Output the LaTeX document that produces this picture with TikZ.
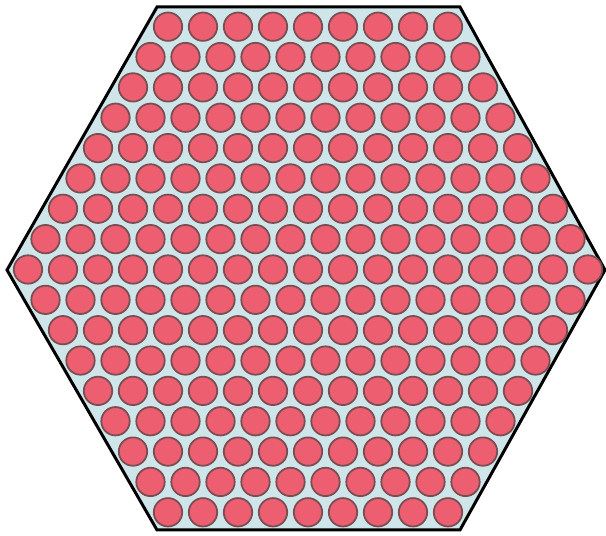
\documentclass[tikz,border=0pt]{standalone}
\usepackage{xcolor}

\definecolor{tubefill}{RGB}{236,94,112}
\definecolor{tubeedge}{RGB}{120,78,82}
\definecolor{ductfill}{RGB}{206,229,234}

\begin{document}
\begin{tikzpicture}[
  x=0.02cm, y=0.02cm,
  duct/.style={
    fill=ductfill,
    draw=black,
    line width=1.7pt,
    line join=miter
  },
  tube/.style={
    fill=tubefill,
    draw=tubeedge,
    line width=1.0pt
  }
]

\path[use as bounding box] (0,0) rectangle (606,536);

% hexagonal shell
\coordinate (nw) at (157,529);
\coordinate (ne) at (460,529);
\coordinate (e)  at (605,266);
\coordinate (se) at (460,6);
\coordinate (sw) at (157,6);
\coordinate (w)  at (7,266);
\draw[duct] (nw) -- (ne) -- (e) -- (se) -- (sw) -- (w) -- cycle;

% tube bundle, 9 per side
\foreach \r in {-8,...,8}{
  \pgfmathtruncatemacro\n{16-abs(\r)}
  \foreach \i in {0,...,\n}{
    \draw[tube] ({308+(\i-\n/2)*35},{266.5-\r*30.35}) circle (14.2);
  }
}

\end{tikzpicture}
\end{document}
